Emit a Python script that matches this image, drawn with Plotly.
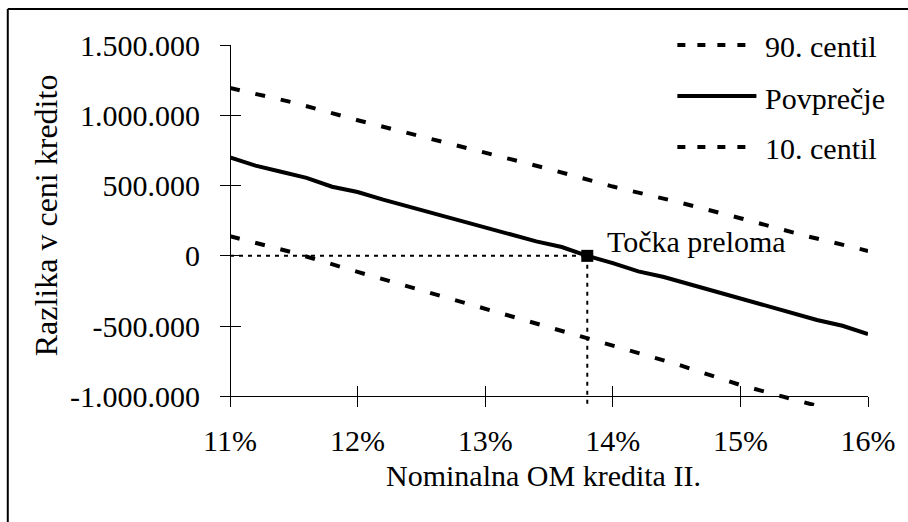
import plotly.graph_objects as go

# ---- data ----
mean_rate = [11.0, 11.2, 11.4, 11.6, 11.8, 12.0, 12.2, 12.4, 12.6, 12.8, 13.0, 13.2, 13.4,
             13.6, 13.8, 14.0, 14.2, 14.4, 14.6, 14.8, 15.0, 15.2, 15.4, 15.6, 15.8, 16.0]
mean_vals = [700000, 642000, 598000, 555000, 492000, 454000, 400000, 350000, 300000, 252000,
             205000, 157000, 103000, 63000, 0, -52000, -110000, -150000, -202000, -250000,
             -300000, -355000, -410000, -456000, -497000, -556000]

pct_rate = [11.0, 11.5, 12.0, 12.5, 13.0, 13.5, 14.0, 14.5, 15.0, 15.5, 16.0]
p90_vals = [1194000, 1090000, 965000, 848000, 736000, 618000, 493000, 385000, 268000, 145000, 35000]
p10_vals = [140000, 22000, -114000, -246000, -373000, -509000, -642000, -770000, -919000, -1040000, -1165000]

break_rate = 13.8
break_val = 0

x_tick_vals = [11, 12, 13, 14, 15, 16]
x_tick_text = ["11%", "12%", "13%", "14%", "15%", "16%"]
y_tick_vals = [-1000000, -500000, 0, 500000, 1000000, 1500000]
y_tick_text = ["-1.000.000", "-500.000", "0", "500.000", "1.000.000", "1.500.000"]

legend_names = ["90. centil", "Povprečje", "10. centil"]

x_range = [11, 16]
y_range = [-1068000, 1500000]
x_axis_cross = -1000000

FONT = "Liberation Serif, Times New Roman, serif"
FS = 30

fig = go.Figure()

# reference lines to the break point
fig.add_trace(go.Scatter(x=[x_range[0], break_rate], y=[break_val, break_val], mode="lines",
                         line=dict(color="black", width=2, dash="4px,5px"), hoverinfo="skip"))
fig.add_trace(go.Scatter(x=[break_rate, break_rate], y=[break_val, y_range[0]], mode="lines",
                         line=dict(color="black", width=2, dash="4px,5px"), hoverinfo="skip"))

fig.add_trace(go.Scatter(x=pct_rate, y=p90_vals, mode="lines", name=legend_names[0],
                         line=dict(color="black", width=4, dash="10px,16px")))
fig.add_trace(go.Scatter(x=mean_rate, y=mean_vals, mode="lines", name=legend_names[1],
                         line=dict(color="black", width=4)))
fig.add_trace(go.Scatter(x=pct_rate, y=p10_vals, mode="lines", name=legend_names[2],
                         line=dict(color="black", width=4, dash="10px,16px")))

fig.add_trace(go.Scatter(x=[break_rate], y=[break_val], mode="markers",
                         marker=dict(symbol="square", size=12, color="black")))

# helper trace for the overlaying axes (crossing ticks)
fig.add_trace(go.Scatter(x=[None], y=[None], xaxis="x2", yaxis="y2", mode="lines",
                         showlegend=False, hoverinfo="skip"))

pos_x = (x_axis_cross - y_range[0]) / (y_range[1] - y_range[0])

axis_common = dict(showgrid=False, zeroline=False, tickcolor="black", tickwidth=1, ticklen=10)

fig.update_layout(
    width=908, height=522,
    margin=dict(l=230, r=32, t=45, b=116, pad=0),
    paper_bgcolor="white", plot_bgcolor="white",
    showlegend=False,
    font=dict(family=FONT, size=FS, color="black"),
    xaxis=dict(range=x_range, anchor="free", position=pos_x, showline=True, linecolor="black",
               linewidth=1, ticks="outside", tickvals=x_tick_vals, ticktext=x_tick_text,
               tickfont=dict(family=FONT, size=FS, color="black"), ticklabelstandoff=8,
               **axis_common),
    xaxis2=dict(range=x_range, overlaying="x", anchor="free", position=pos_x, showline=False,
                ticks="inside", tickvals=x_tick_vals, showticklabels=False, **axis_common),
    yaxis=dict(range=y_range, anchor="free", position=0, showline=True, linecolor="black",
               linewidth=1, ticks="outside", tickvals=y_tick_vals, ticktext=y_tick_text,
               tickfont=dict(family=FONT, size=FS, color="black"), ticklabelstandoff=14,
               **axis_common),
    yaxis2=dict(range=y_range, overlaying="y", anchor="free", position=0, side="left",
                showline=False, ticks="inside", tickvals=y_tick_vals, showticklabels=False,
                **axis_common),
)

annotations = [
    dict(x=break_rate, y=break_val, xref="x", yref="y", text="Točka preloma", showarrow=False,
         xanchor="left", yanchor="middle", xshift=18, yshift=14,
         font=dict(family=FONT, size=FS, color="black")),
    dict(x=0.4907, y=-0.1939, xref="paper", yref="paper", text="Nominalna OM kredita II.",
         showarrow=False, xanchor="center", yanchor="middle",
         font=dict(family=FONT, size=FS, color="black")),
    dict(x=-0.2880, y=0.529, xref="paper", yref="paper", text="Razlika v ceni kredito",
         showarrow=False, xanchor="center", yanchor="middle", textangle=-90,
         font=dict(family=FONT, size=32, color="black")),
]

# custom legend (long line samples as in the reference)
leg_y_line = [1.0, 0.8587, 0.7175]
leg_y_text = [0.9945, 0.853, 0.712]
leg_dash = ["8px,12px", "solid", "8px,12px"]
shapes = []
for name, yl, yt, dash in zip(legend_names, leg_y_line, leg_y_text, leg_dash):
    shapes.append(dict(type="line", xref="paper", yref="paper", x0=0.7012, x1=0.8251,
                       y0=yl, y1=yl, line=dict(color="black", width=4, dash=dash)))
    annotations.append(dict(x=0.8359, y=yt, xref="paper", yref="paper", text=name,
                            showarrow=False, xanchor="left", yanchor="middle",
                            font=dict(family=FONT, size=FS, color="black")))

# outer frame (left and top edges visible in the cropped reference)
shapes.append(dict(type="line", xref="paper", yref="paper", x0=-0.3483, x1=-0.3483,
                   y0=-0.4, y1=1.0997, line=dict(color="black", width=2)))
shapes.append(dict(type="line", xref="paper", yref="paper", x0=-0.3483, x1=1.1,
                   y0=1.0997, y1=1.0997, line=dict(color="black", width=2)))

fig.update_layout(annotations=annotations, shapes=shapes)

fig.write_html("out.html")
